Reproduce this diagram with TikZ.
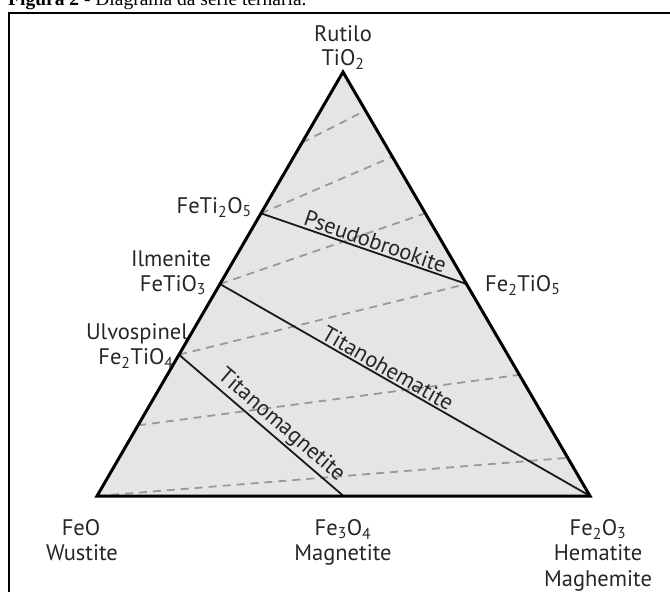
\documentclass[tikz,border=0pt]{standalone}
\usepackage{fontspec}
\usepackage{graphicx}
\setmainfont{PT Sans}
\newfontfamily\captionserif{Liberation Serif}
\usetikzlibrary{calc}
\begin{document}
\begin{tikzpicture}[x=1pt,y=-1pt,
  lab/.style={font=\fontsize{22.5}{25}\selectfont, text=black!85, inner sep=0pt},
  rim/.style={line width=3pt, line join=miter},
  solidln/.style={line width=1.8pt, black!90},
  oxid/.style={line width=1.8pt, gray!80, dash pattern=on 8pt off 6pt},
  rot/.style={sloped, above, inner sep=1.5pt, font=\fontsize{22.5}{25}\selectfont, text=black!85}]
\useasboundingbox (0,0) rectangle (670,592);
\clip (0,0) rectangle (670,592);
% caption (cut off at top) and frame
\node[anchor=base west, inner sep=0pt] (cap) at (8,5) {\scalebox{1.95}{\captionserif\textbf{Figura 2} - Diagrama da série ternária.}};
\draw[line width=2pt] (9,600) -- (9,13) -- (680,13);
% vertices
\coordinate (FeO) at (97,496);
\coordinate (Hem) at (590,496);
\coordinate (Ti) at (343,72);
\coordinate (Mag) at ($(FeO)!0.5!(Hem)$);
\coordinate (Ulv) at ($(FeO)!1/3!(Ti)$);
\coordinate (Ilm) at ($(FeO)!1/2!(Ti)$);
\coordinate (Psb) at ($(FeO)!2/3!(Ti)$);
\coordinate (FTi) at ($(Hem)!1/2!(Ti)$);
\fill[gray!20] (FeO) -- (Hem) -- (Ti) -- cycle;
% oxidation (dashed) lines
\foreach \a/\b [count=\i] in {0/0.09, 0.16667/0.28571, 0.33333/0.5, 0.5/0.66667, 0.66667/0.8, 0.83333/0.90909}{
  \coordinate (dl\i) at ($(FeO)!\a!(Ti)$);
  \coordinate (dr\i) at ($(Hem)!\b!(Ti)$);
  \draw[oxid] (dl\i) -- (dr\i);
}
% solid solution joins
\draw[solidln] (Psb) -- node[rot, pos=0.54] (lpsb) {Pseudobrookite} (FTi);
\draw[solidln] (Ilm) -- node[rot, pos=0.44] (lth) {Titanohematite} (Hem);
\draw[solidln] (Ulv) -- node[rot, pos=0.57] (ltm) {Titanomagnetite} (Mag);
\draw[rim] (FeO) -- (Hem) -- (Ti) -- cycle;
% labels
\node[lab, anchor=base] (rut) at (343,41) {Rutilo};
\node[lab, anchor=base] (tio2) at (343,65) {TiO\textsubscript{2}};
\node[lab, anchor=base east] (feti2o5) at (252,213) {FeTi\textsubscript{2}O\textsubscript{5}};
\node[lab, anchor=base] (ilmn) at (171,266) {Ilmenite};
\node[lab, anchor=base] (fetio3) at (173,291) {FeTiO\textsubscript{3}};
\node[lab, anchor=base] (ulvn) at (137,339) {Ulvospinel};
\node[lab, anchor=base] (fe2tio4) at (136,364) {Fe\textsubscript{2}TiO\textsubscript{4}};
\node[lab, anchor=base west] (fe2tio5) at (485,291) {Fe\textsubscript{2}TiO\textsubscript{5}};
\node[lab, anchor=base] (feo) at (81,535) {FeO};
\node[lab, anchor=base] (wus) at (82,560) {Wustite};
\node[lab, anchor=base] (fe3o4) at (343,535) {Fe\textsubscript{3}O\textsubscript{4}};
\node[lab, anchor=base] (magn) at (343,560) {Magnetite};
\node[lab, anchor=base] (fe2o3) at (598,535) {Fe\textsubscript{2}O\textsubscript{3}};
\node[lab, anchor=base] (hemn) at (598,560) {Hematite};
\node[lab, anchor=base] (maghn) at (598,586) {Maghemite};
\end{tikzpicture}
\end{document}
